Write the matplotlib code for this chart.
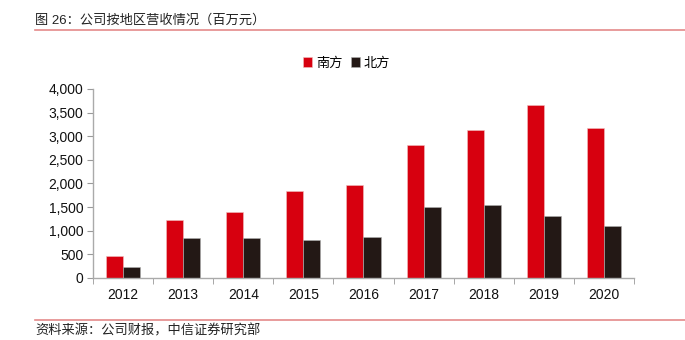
import matplotlib
matplotlib.use('Agg')
import matplotlib.pyplot as plt
import numpy as np

plt.rcParams['font.family'] = ['Liberation Sans', 'Noto Sans CJK SC', 'DejaVu Sans']

years = ['2012', '2013', '2014', '2015', '2016', '2017', '2018', '2019', '2020']
south = [466, 1236, 1397, 1840, 1968, 2808, 3125, 3662, 3168]
north = [233, 855, 840, 800, 868, 1494, 1536, 1306, 1094]
series_names = ['南方', '北方']
title = '图 26：公司按地区营收情况（百万元）'
source = '资料来源：公司财报，中信证券研究部'

RED = '#D7000F'
DARK = '#231815'
LINE = '#E48A8A'

fig = plt.figure(figsize=(6.85, 3.4), dpi=100)
ax = fig.add_axes([0.1358, 0.1824, 0.7897, 0.5559])

x = np.arange(len(years))
w = 0.283
ax.bar(x - w / 2, south, w, color=RED, edgecolor='#f0c0c0', linewidth=0.4, label=series_names[0])
ax.bar(x + w / 2, north, w, color=DARK, edgecolor='#b0b0b0', linewidth=0.4, label=series_names[1])

ax.set_xlim(-0.5, len(years) - 0.5)
ax.set_ylim(0, 4000)
ax.set_yticks(np.arange(0, 4001, 500))
ax.set_yticklabels([f'{v:,}' for v in range(0, 4001, 500)])
ax.set_xticks(x)
ax.set_xticklabels(years)
ax.set_xticks(np.arange(-0.5, len(years), 1), minor=True)
ax.tick_params(axis='x', which='major', length=0, pad=7)
ax.tick_params(axis='x', which='minor', length=4, color='#999999', direction='out')
ax.tick_params(axis='y', length=4, color='#999999', pad=3)
ax.tick_params(labelsize=10, labelcolor='#111111')

for s in ['top', 'right']:
    ax.spines[s].set_visible(False)
for s in ['left', 'bottom']:
    ax.spines[s].set_color('#aaaaaa')
    ax.spines[s].set_linewidth(1.0)

ax.legend(loc='lower center', bbox_to_anchor=(0.469, 1.04), ncol=2, frameon=False,
          fontsize=9.5, handlelength=0.7, handleheight=0.7, handletextpad=0.3,
          columnspacing=0.6)

fig.text(35 / 685, 1 - 20 / 340, title, fontsize=9.5, va='center', ha='left', color='#222222')
fig.add_artist(plt.Line2D([35 / 685, 1], [1 - 29.5 / 340] * 2, color=LINE, linewidth=1.2))
fig.add_artist(plt.Line2D([35 / 685, 1], [1 - 320 / 340] * 2, color=LINE, linewidth=1.2))
fig.text(35 / 685, 1 - 331 / 340, source, fontsize=9.5, va='center', ha='left', color='#222222')

fig.savefig('out.png', dpi=100)
